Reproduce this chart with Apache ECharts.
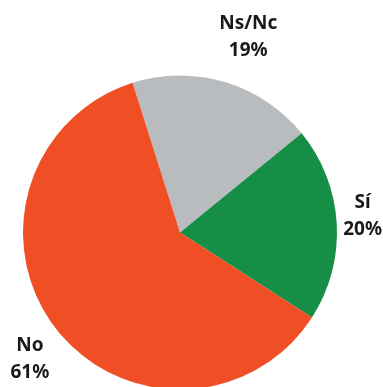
<!DOCTYPE html>
<html>
<head>
<meta charset="utf-8">
<script src="https://cdn.jsdelivr.net/npm/echarts@6/dist/echarts.min.js"></script>
<style>
  html, body { margin: 0; padding: 0; background: #ffffff; }
  #chart { width: 383px; height: 387px; }
</style>
</head>
<body>
<div id="chart"></div>
<script>
// Survey answers, clockwise from the upper-left edge
const categories = ['Ns/Nc', 'Sí', 'No'];
const shares = [19, 20, 61];
const colors = ['#B8BCBF', '#168E45', '#F04E24'];
// small nudges for each label, in px
const labelNudgeX = [10, -21, 12];
const labelNudgeY = [0, -5, 3];

const data = categories.map((name, i) => ({ name: name, value: shares[i] }));

const chart = echarts.init(document.getElementById('chart'), null, { renderer: 'canvas' });

const labelFont = {
  fontFamily: 'Noto Sans',
  fontWeight: 'bold',
  fontSize: 19,
  color: '#1a1a1a',
  lineHeight: 27
};

const pieCenter = [180, 232.5];
const pieStart = 107.6;

chart.setOption({
  animation: false,
  series: [
    {
      // the coloured pie itself
      type: 'pie',
      center: pieCenter,
      radius: 157,
      startAngle: pieStart,
      clockwise: true,
      silent: true,
      label: { show: false },
      labelLine: { show: false },
      itemStyle: {
        color: (p) => colors[p.dataIndex],
        borderWidth: 0
      },
      data: data
    },
    {
      // transparent outer ring that carries the centred labels
      type: 'pie',
      center: pieCenter,
      radius: [165, 237],
      startAngle: pieStart,
      clockwise: true,
      silent: true,
      itemStyle: { color: 'rgba(0,0,0,0)', borderWidth: 0 },
      label: Object.assign({
        show: true,
        position: 'inside',
        formatter: (p) => p.name + '\n' + p.value + '%'
      }, labelFont),
      labelLine: { show: false },
      labelLayout: (p) => ({ dx: labelNudgeX[p.dataIndex], dy: labelNudgeY[p.dataIndex] }),
      data: data
    }
  ]
});
</script>
</body>
</html>
